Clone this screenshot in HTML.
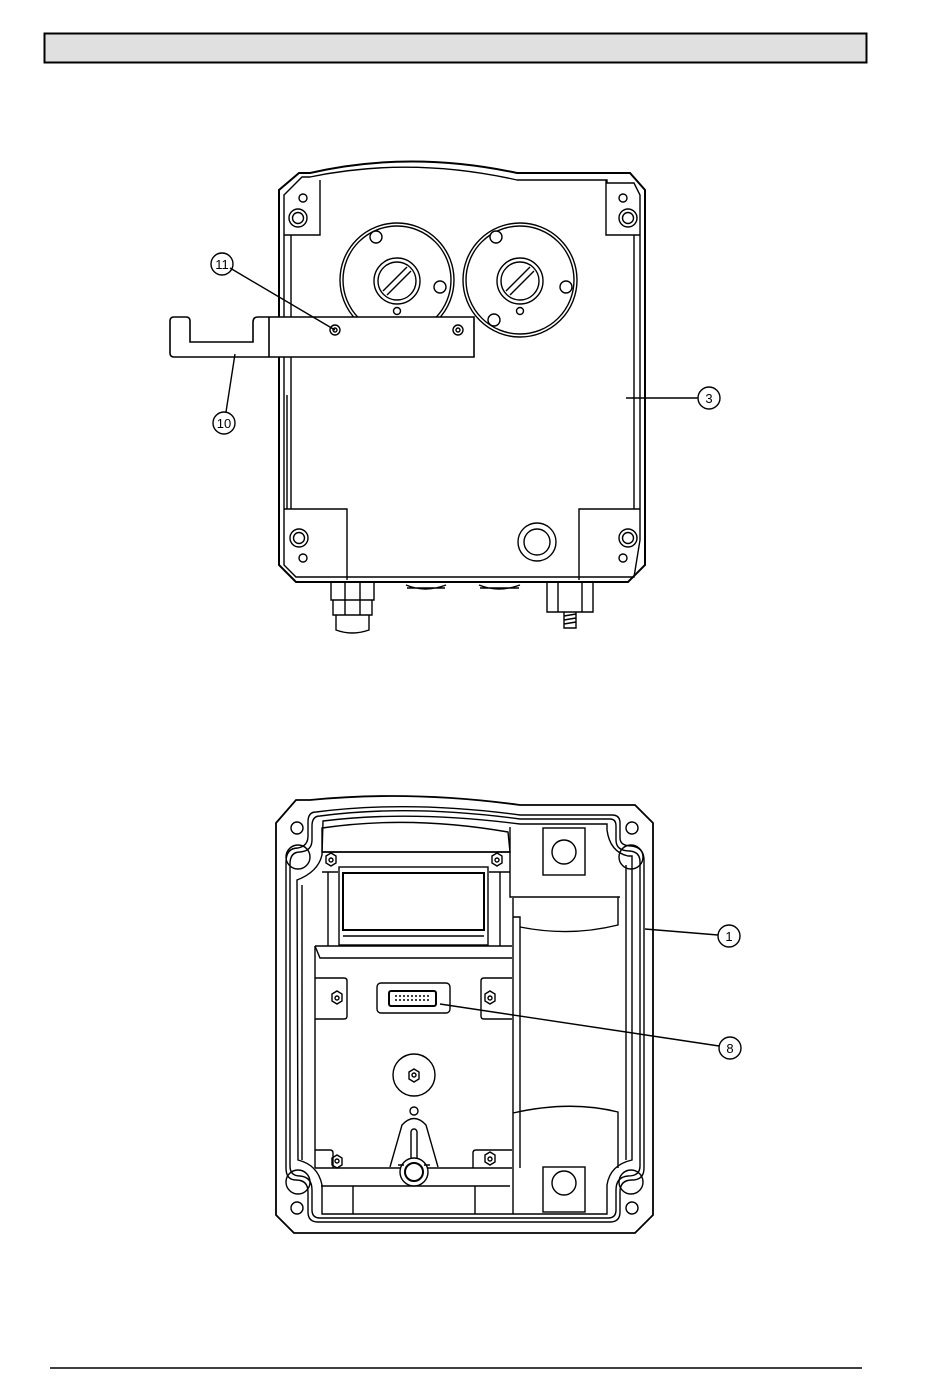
<!DOCTYPE html>
<html><head><meta charset="utf-8"><style>
html,body{margin:0;padding:0;background:#fff;}
svg{display:block}
text{font-family:"Liberation Sans",sans-serif;font-size:13px;}
</style></head><body>
<svg width="950" height="1389" viewBox="0 0 950 1389" xmlns="http://www.w3.org/2000/svg" fill="none" stroke="#000" stroke-width="1.4">
<rect x="44.5" y="33.5" width="822" height="29" fill="#e0e0e0" stroke-width="2"/>
<line x1="50" y1="1368" x2="862" y2="1368" stroke-width="1.5"/>

<!-- TOP HOUSING -->
<path d="M299,173 L310,173 Q410,150 517,173 L630,173 L645,190 L645,565 L628,582 L296,582 L279,565 L279,190 Z" stroke-width="2"/>
<path d="M302,177 L310,177 Q410,156 517,180 L607,180 L607,183 L634,183 L640,195 L640,540 L634,577 L296,577 L284,565 L284,195 Z"/>
<line x1="291" y1="235" x2="291" y2="509"/>
<line x1="634" y1="235" x2="634" y2="509"/>
<line x1="287" y1="395" x2="287" y2="509"/>
<!-- corner blocks -->
<path d="M284,235 L320,235 L320,180"/>
<path d="M640,235 L606,235 L606,180"/>
<path d="M284,509 L347,509 L347,580"/>
<path d="M640,509 L579,509 L579,580"/>
<circle cx="303" cy="198" r="4"/><circle cx="298" cy="218" r="9"/><circle cx="298" cy="218" r="5.5"/>
<circle cx="623" cy="198" r="4"/><circle cx="628" cy="218" r="9"/><circle cx="628" cy="218" r="5.5"/>
<circle cx="299" cy="538" r="9"/><circle cx="299" cy="538" r="5.5"/><circle cx="303" cy="558" r="4"/>
<circle cx="628" cy="538" r="9"/><circle cx="628" cy="538" r="5.5"/><circle cx="623" cy="558" r="4"/>
<circle cx="537" cy="542" r="19"/><circle cx="537" cy="542" r="13"/>
<!-- dials -->
<circle cx="397" cy="280" r="57"/><circle cx="397" cy="280" r="54"/>
<circle cx="397" cy="281" r="23"/><circle cx="397" cy="281" r="19"/>
<line x1="383" y1="291" x2="407" y2="267"/><line x1="387" y1="295" x2="411" y2="271"/>
<circle cx="397" cy="311" r="3.5"/>
<circle cx="520" cy="280" r="57"/><circle cx="520" cy="280" r="54"/>
<circle cx="520" cy="281" r="23"/><circle cx="520" cy="281" r="19"/>
<line x1="506" y1="291" x2="530" y2="267"/><line x1="510" y1="295" x2="534" y2="271"/>
<circle cx="520" cy="311" r="3.5"/>
<circle cx="376" cy="237" r="6" fill="#fff"/><circle cx="440" cy="287" r="6" fill="#fff"/>
<circle cx="496" cy="237" r="6" fill="#fff"/><circle cx="566" cy="287" r="6" fill="#fff"/><circle cx="494" cy="320" r="6" fill="#fff"/>
<!-- bracket -->
<path d="M269,317 L474,317 L474,357 L174,357 Q170,357 170,353 L170,321 Q170,317 174,317 L186,317 Q190,317 190,321 L190,342 L253,342 L253,322 Q253,317 258,317 L269,317 L269,357" fill="#fff" stroke-width="1.6"/>
<circle cx="335" cy="330" r="5"/><circle cx="335" cy="330" r="2"/>
<circle cx="458" cy="330" r="5"/><circle cx="458" cy="330" r="2"/>
<!-- bottom fittings -->
<path d="M331,582 L331,600 L374,600 L374,582 M333,600 L333,615 L372,615 L372,600 M336,615 L336,630 Q352,636 369,630 L369,615"/>
<line x1="345" y1="582" x2="345" y2="615"/><line x1="360" y1="582" x2="360" y2="615"/>
<path d="M406,585 Q425,593 446,585 M407,588 L445,588"/>
<path d="M479,585 Q498,593 520,585 M480,588 L519,588"/>
<path d="M547,582 L547,612 L593,612 L593,582 M558,582 L558,612 M582,582 L582,612"/>
<path d="M564,612 L564,628 L576,628 L576,612 M564,616 L576,614 M564,620 L576,618 M564,624 L576,622"/>
<!-- labels top -->
<circle cx="222" cy="264" r="11"/><text x="222" y="269" text-anchor="middle" fill="#000" stroke="none">11</text>
<line x1="230" y1="268" x2="335" y2="330"/>
<circle cx="224" cy="423" r="11"/><text x="224" y="428" text-anchor="middle" fill="#000" stroke="none">10</text>
<line x1="226" y1="412" x2="235" y2="354"/>
<circle cx="709" cy="398" r="11"/><text x="709" y="403" text-anchor="middle" fill="#000" stroke="none">3</text>
<line x1="626" y1="398" x2="698" y2="398"/>

<!-- BOTTOM HOUSING -->
<path d="M296,800 L310,800 Q410,790 520,805 L635,805 L653,823 L653,1215 L635,1233 L294,1233 L276,1215 L276,823 Z" stroke-width="1.8"/>
<path d="M316,812 Q410,800 520,815 L612,815 Q620,815 620,823 L620,838 Q620,846 632,846 Q644,848 644,860 L644,1168 Q644,1180 632,1180 Q620,1180 620,1192 L620,1212 Q620,1222 610,1222 L318,1222 Q308,1222 308,1212 L308,1192 Q308,1180 296,1180 Q286,1180 286,1168 L286,862 Q286,848 298,848 Q308,846 308,836 L308,822 Q308,812 316,812 Z"/>
<path d="M320,816 Q410,804 520,819 L610,819 Q616,819 616,826 L616,840 Q616,851 630,851 Q640,852 640,862 L640,1166 Q640,1176 628,1176 Q616,1177 616,1190 L616,1210 Q616,1218 608,1218 L320,1218 Q312,1218 312,1210 L312,1190 Q312,1177 300,1176 Q290,1176 290,1166 L290,864 Q290,852 300,852 Q312,851 312,840 L312,826 Q312,816 320,816 Z"/>
<path d="M323,821 Q410,810 520,824 L607,824 L607,830 Q610,852 628,856 L632,856 L632,1160 Q610,1165 607,1185 L607,1214 L322,1214 L322,1185 Q318,1165 298,1160 L297,880 Q318,872 322,855 Z"/>
<line x1="302" y1="885" x2="302" y2="1160"/>
<line x1="626" y1="865" x2="626" y2="1160"/>
<circle cx="297" cy="828" r="6"/><circle cx="298" cy="857" r="12"/>
<circle cx="632" cy="828" r="6"/><circle cx="631" cy="857" r="12"/>
<circle cx="298" cy="1182" r="12"/><circle cx="297" cy="1208" r="6"/>
<circle cx="631" cy="1182" r="12"/><circle cx="632" cy="1208" r="6"/>
<!-- display area -->
<path d="M322,828 Q410,815 508,832 L510,852 L322,852 Z"/>
<line x1="322" y1="852" x2="510" y2="852"/>
<line x1="315" y1="946" x2="512" y2="946"/>
<line x1="315" y1="946" x2="315" y2="1168"/>
<rect x="339" y="867" width="149" height="78"/>
<rect x="343" y="873" width="141" height="57" stroke-width="2"/>
<line x1="343" y1="936" x2="484" y2="936"/>
<path d="M328,872 L328,946 M500,872 L500,946 M322,872 L338,872 M489,872 L510,872"/>
<polygon points="326,856 331,853 336,856 336,863 331,866 326,863"/><circle cx="331" cy="860" r="2"/>
<polygon points="492,856 497,853 502,856 502,863 497,866 492,863"/><circle cx="497" cy="860" r="2"/>
<path d="M315,946 L320,958 L512,958"/>
<!-- right pockets -->
<path d="M510,827 L510,897 L620,897"/>
<rect x="543" y="828" width="42" height="47"/><circle cx="564" cy="852" r="12"/>
<path d="M513,898 L513,1168"/><path d="M513,917 L520,917 L520,1168"/>
<path d="M520,927 Q570,937 618,925 L618,897"/>
<path d="M513,1113 Q570,1100 618,1112 L618,1168"/>
<path d="M513,1168 L513,1214"/>
<rect x="543" y="1167" width="42" height="45"/><circle cx="564" cy="1183" r="12"/>
<!-- module plate -->
<path d="M315,978 L344,978 Q347,978 347,981 L347,1016 Q347,1019 344,1019 L315,1019"/>
<path d="M512,978 L484,978 Q481,978 481,981 L481,1016 Q481,1019 484,1019 L512,1019"/>
<polygon points="332,994 337,991 342,994 342,1001 337,1004 332,1001"/><circle cx="337" cy="998" r="2"/>
<polygon points="485,994 490,991 495,994 495,1001 490,1004 485,1001"/><circle cx="490" cy="998" r="2"/>
<rect x="377" y="983" width="73" height="30" rx="4"/>
<rect x="389" y="991" width="47" height="15" rx="2" stroke-width="2"/>
<line x1="395" y1="996" x2="430" y2="996" stroke-dasharray="2 2"/><line x1="395" y1="1000" x2="430" y2="1000" stroke-dasharray="2 2"/>
<circle cx="414" cy="1075" r="21"/>
<polygon points="409,1072 414,1069 419,1072 419,1079 414,1082 409,1079"/><circle cx="414" cy="1075" r="2"/>
<circle cx="414" cy="1111" r="4"/>
<path d="M390,1167 L402,1125 Q414,1112 426,1125 L438,1167"/>
<rect x="411" y="1129" width="6" height="35" rx="3"/>
<line x1="315" y1="1168" x2="512" y2="1168"/>
<path d="M315,1150 L330,1150 Q333,1150 333,1153 L333,1168 M512,1150 L476,1150 Q473,1150 473,1153 L473,1168"/>
<polygon points="332,1158 337,1155 342,1158 342,1165 337,1168 332,1165"/><circle cx="337" cy="1161" r="2"/>
<polygon points="485,1155 490,1152 495,1155 495,1162 490,1165 485,1162"/><circle cx="490" cy="1159" r="2"/>
<line x1="321" y1="1186" x2="510" y2="1186"/>
<line x1="353" y1="1186" x2="353" y2="1214"/><line x1="475" y1="1186" x2="475" y2="1214"/>
<circle cx="414" cy="1172" r="14" fill="#fff"/><circle cx="414" cy="1172" r="9" stroke-width="2"/>
<path d="M398,1165 L404,1165 M424,1165 L430,1165"/>
<!-- labels bottom -->
<circle cx="729" cy="936" r="11"/><text x="729" y="941" text-anchor="middle" fill="#000" stroke="none">1</text>
<line x1="645" y1="929" x2="718" y2="935"/>
<circle cx="730" cy="1048" r="11"/><text x="730" y="1053" text-anchor="middle" fill="#000" stroke="none">8</text>
<line x1="440" y1="1004" x2="719" y2="1046"/>
</svg>
</body></html>
